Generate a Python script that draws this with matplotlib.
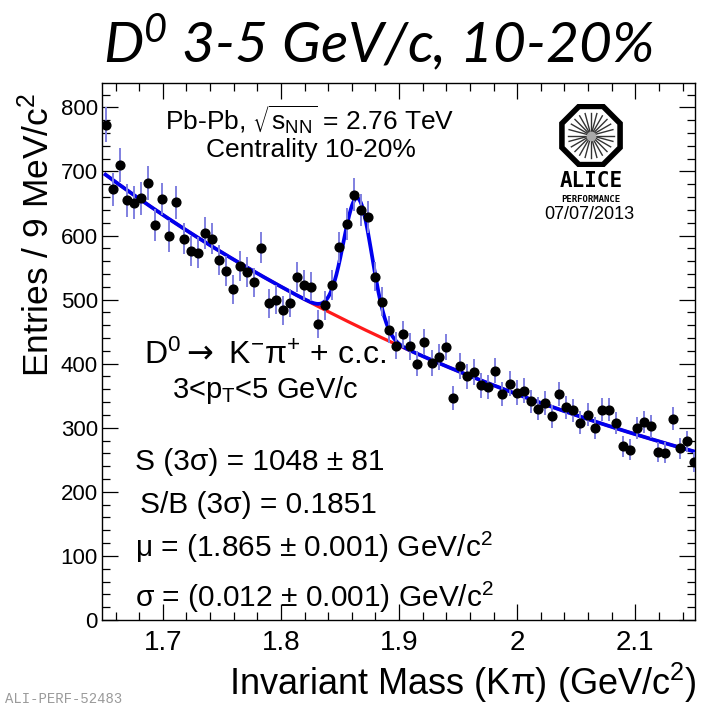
"""
D0 invariant mass spectrum, 3-5 GeV/c, centrality 10-20% (ALICE performance style).
"""
import numpy as np
import matplotlib
matplotlib.use('Agg')
import matplotlib.pyplot as plt
from matplotlib.ticker import MultipleLocator, FormatStrFormatter
from matplotlib.patches import RegularPolygon

plt.rcParams['font.family'] = ['Liberation Sans', 'DejaVu Sans']

# bin centres (GeV/c^2) and entries
mass_lo = 1.6515
bin_w = 0.006
counts = [773, 672, 710, 655, 651, 658, 682, 617, 657, 599,
          652, 595, 576, 573, 604, 595, 562, 545, 516, 552,
          543, 527, 581, 494, 500, 483, 495, 535, 523, 520,
          462, 491, 523, 582, 618, 664, 640, 629, 536, 497,
          453, 428, 446, 427, 400, 434, 401, 410, 426, 346,
          396, 380, 387, 366, 364, 389, 353, 369, 355, 358,
          341, 330, 339, 318, 353, 332, 327, 308, 320, 300,
          328, 328, 307, 271, 266, 300, 309, 302, 262, 261,
          314, 268, 279, 246]
mass = mass_lo + bin_w * np.arange(len(counts))
counts = np.array(counts, dtype=float)
errors = np.sqrt(counts)

# fit: exponential background + gaussian signal
bkg_norm = 697.0
bkg_slope = 1.95
bkg_ref = 1.65
sig_amp = 200.0
sig_mu = 1.865
sig_sigma = 0.012


def background(x):
    return bkg_norm * np.exp(-bkg_slope * (x - bkg_ref))


def total(x):
    return background(x) + sig_amp * np.exp(-0.5 * ((x - sig_mu) / sig_sigma) ** 2)


fig = plt.figure(figsize=(7.03, 7.07), dpi=100)
ax = fig.add_axes([102 / 703, 1 - 620 / 707, 593 / 703, 537 / 707])

xf = np.linspace(mass[0], mass[-1], 600)
ax.plot(xf, background(xf), color='#ff1a1a', lw=2.3, zorder=2)
ax.plot(xf, total(xf), color='#0000ee', lw=2.7, zorder=3)
ax.errorbar(mass, counts, yerr=errors, fmt='o', color='black', ms=6.3,
            ecolor='#8080e0', elinewidth=1.4, capsize=0, zorder=4)

ax.set_xlim(1.6485, 2.1505)
ax.set_ylim(0, 838)
ax.xaxis.set_major_locator(MultipleLocator(0.1))
ax.xaxis.set_minor_locator(MultipleLocator(0.02))
ax.yaxis.set_major_locator(MultipleLocator(100))
ax.yaxis.set_minor_locator(MultipleLocator(20))
ax.xaxis.set_major_formatter(FormatStrFormatter('%g'))
ax.tick_params(which='both', direction='in', top=True, right=True, width=0.9)
ax.tick_params(which='major', length=11.5, labelsize=20, pad=7)
ax.tick_params(which='minor', length=5.8)
ax.tick_params(axis='y', which='major', labelsize=16, pad=3)
for s in ax.spines.values():
    s.set_linewidth(1.0)

fig.text(697 / 703, 1 - 683 / 707, r'Invariant Mass (K$\mathregular{\pi}$) (GeV/c$\mathregular{^{2}}$)',
         ha='right', va='center', fontsize=26)
fig.text(38 / 703, 1 - 235 / 707, r'Entries / 9 MeV/c$\mathregular{^{2}}$',
         ha='center', va='center', rotation=90, fontsize=25.5)

fig.text(378 / 703, 1 - 42 / 707, r'$\mathregular{D^{0}}$ 3-5 GeV/c, 10-20%',
         ha='center', va='center', fontsize=41, family='Lato', style='italic')

# labels inside the frame
fig.text(310 / 703, 1 - 120 / 707, r'Pb-Pb, $\sqrt{\mathregular{s_{NN}}}$ = 2.76 TeV',
         ha='center', va='center', fontsize=19)
fig.text(311 / 703, 1 - 150 / 707, 'Centrality 10-20%', ha='center', va='center', fontsize=19)
fig.text(265 / 703, 1 - 355 / 707,
         r'$\mathregular{D^{0}}\rightarrow$ K$\mathregular{^{-}}$π$\mathregular{^{+}}$ + c.c.',
         ha='center', va='center', fontsize=23)
fig.text(265 / 703, 1 - 390 / 707, r'3<p$\mathregular{_{T}}$<5 GeV/c',
         ha='center', va='center', fontsize=21)
fig.text(135 / 703, 1 - 462 / 707, 'S (3σ) = 1048 ± 81', ha='left', va='center', fontsize=21.5)
fig.text(140 / 703, 1 - 505 / 707, 'S/B (3σ) = 0.1851', ha='left', va='center', fontsize=21.5)
fig.text(135 / 703, 1 - 547 / 707, r'μ = (1.865 ± 0.001) GeV/c$\mathregular{^{2}}$',
         ha='left', va='center', fontsize=21.5)
fig.text(135 / 703, 1 - 597 / 707, r'σ = (0.012 ± 0.001) GeV/c$\mathregular{^{2}}$',
         ha='left', va='center', fontsize=21.5)

# ALICE logo
lax = fig.add_axes([557 / 703, 1 - 167 / 707, 68 / 703, 63 / 707])
lax.set_xlim(-1.08, 1.08)
lax.set_ylim(-1.0, 1.0)
lax.axis('off')
lax.add_patch(RegularPolygon((0, 0), 8, radius=1.0, orientation=np.pi / 8,
                             facecolor='white', edgecolor='black', lw=4.0))
for a in np.linspace(0, np.pi, 12, endpoint=False):
    lax.plot([-0.72 * np.cos(a), 0.72 * np.cos(a)], [-0.72 * np.sin(a), 0.72 * np.sin(a)],
             color='#333333', lw=1.0)
lax.plot(0, 0, 'o', color='#aaaaaa', ms=6)
fig.text(591 / 703, 1 - 181 / 707, 'ALICE', ha='center', va='center', fontsize=15,
         family='DejaVu Sans Mono', weight='bold')
fig.text(591 / 703, 1 - 200 / 707, 'PERFORMANCE', ha='center', va='center', fontsize=6.5,
         family='DejaVu Sans Mono', weight='bold')
fig.text(589 / 703, 1 - 215 / 707, '07/07/2013', ha='center', va='center', fontsize=13)

fig.text(5 / 703, 1 - 699 / 707, 'ALI-PERF-52483', ha='left', va='center', fontsize=10,
         family='Liberation Mono', color='#9a9a9a')

fig.savefig('out.png', dpi=100)
